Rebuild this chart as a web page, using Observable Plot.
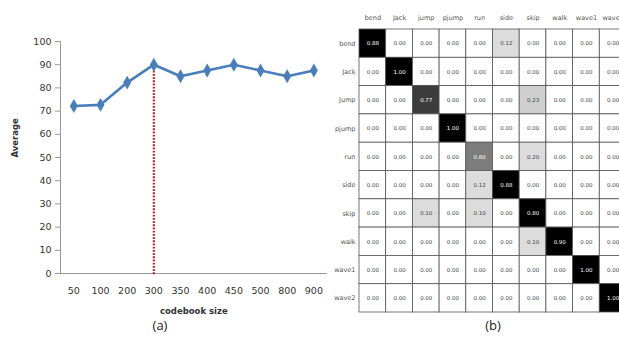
<!DOCTYPE html>
<html>
<head>
<meta charset="utf-8">
<script src="https://cdn.jsdelivr.net/npm/d3@7"></script>
<script src="https://cdn.jsdelivr.net/npm/@observablehq/plot@0.6"></script>
<style>
  html, body { margin: 0; padding: 0; background: #fff; overflow: hidden; }
  #wrap { position: relative; width: 619px; height: 354px; overflow: hidden; font-family: "DejaVu Sans", sans-serif; }
  .panel { position: absolute; top: 0; }
  .panel svg { max-width: none !important; }
  .cap { position: absolute; top: 316px; width: 40px; text-align: center; font-size: 13px; color: #222; font-family: "Open Sans", sans-serif; }
</style>
</head>
<body>
<div id="wrap">
  <div id="left" class="panel" style="left:0px; width:330px"></div>
  <div id="right" class="panel" style="left:320px; width:310px"></div>
  <div class="cap" style="left:140px">(a)</div>
  <div class="cap" style="left:473px">(b)</div>
</div>
<script>
// ---- Panel (a): average vs codebook size ----
const codebook = ["50","100","200","300","350","400","450","500","800","900"];
const average = [72.2, 72.7, 82.3, 90, 85, 87.5, 90, 87.5, 85, 87.5];
const yTicks = [0,10,20,30,40,50,60,70,80,90,100];
const bestSize = "300";
const bestAverage = 90;

// ---- Panel (b): confusion matrix ----
const rowLabels = ["bend","Jack","Jump","pjump","run","side","skip","walk","wave1","wave2"];
const colLabels = ["bend","Jack","jump","pjump","run","side","skip","walk","wave1","wave2"];
const confusion = [
  [0.88,0,0,0,0,0.12,0,0,0,0],
  [0,1.00,0,0,0,0,0,0,0,0],
  [0,0,0.77,0,0,0,0.23,0,0,0],
  [0,0,0,1.00,0,0,0,0,0,0],
  [0,0,0,0,0.80,0,0.20,0,0,0],
  [0,0,0,0,0.12,0.88,0,0,0,0],
  [0,0,0.10,0,0.10,0,0.80,0,0,0],
  [0,0,0,0,0,0,0.10,0.90,0,0],
  [0,0,0,0,0,0,0,0,1.00,0],
  [0,0,0,0,0,0,0,0,0,1.00]
];

const lineData = codebook.map((c, i) => ({size: c, avg: average[i]}));
const blue = "#4a7ebb";

const left = Plot.plot({
  width: 330, height: 330,
  marginLeft: 60, marginRight: 3.3, marginTop: 41, marginBottom: 57,
  style: {fontSize: "9.5px", fontFamily: "DejaVu Sans, sans-serif", color: "#333", background: "transparent", overflow: "visible", maxWidth: "none"},
  x: {type: "point", domain: codebook, padding: 0.5, round: false},
  y: {domain: [0, 100]},
  marks: [
    Plot.frame({anchor: "left", stroke: "#999"}),
    Plot.ruleY([0], {stroke: "#999"}),
    Plot.axisY({ticks: yTicks, tickSize: 5, tickPadding: 4, label: null, stroke: "#999"}),
    Plot.axisX({tickSize: 0, tickPadding: 14, label: null}),
    Plot.ruleX([bestSize], {x: d => d, y1: -0.5, y2: bestAverage, stroke: "#b8232b", strokeWidth: 2.2, strokeDasharray: "1.8,1.4"}),
    Plot.line(lineData, {x: "size", y: "avg", stroke: blue, strokeWidth: 2.6}),
    Plot.dot(lineData, {x: "size", y: "avg", symbol: "diamond", fill: blue, r: 4.2}),
    Plot.text(["codebook size"], {text: d => d, frameAnchor: "bottom", dy: 40, fontWeight: "bold", fontSize: 8.5, fill: "#333"}),
    Plot.text(["Average"], {text: d => d, frameAnchor: "left", dx: -45, rotate: -90, fontWeight: "bold", fontSize: 8.5, fill: "#333"})
  ]
});
document.getElementById("left").appendChild(left);

const cells = [];
rowLabels.forEach((r, i) => colLabels.forEach((c, j) => cells.push({row: r, col: c, i, j, v: confusion[i][j]})));
function shade(d) {
  if (d.v === 0) return "#ffffff";
  if (d.v < 0.3) return d.v > 0.21 ? "#cfcfcf" : "#dcdcdc";
  if (rowLabels[d.i] === "run" && colLabels[d.j] === "run") return "#7c7c7c";
  if (d.v < 0.78) return "#3c3c3c";
  return "#000000";
}
function ink(d) { return d.v >= 0.5 ? "#ffffff" : "#444"; }

const right = Plot.plot({
  width: 310, height: 354,
  marginLeft: 39, marginRight: 4, marginTop: 29, marginBottom: 42,
  style: {fontSize: "6.5px", fontFamily: "DejaVu Sans, sans-serif", color: "#555", background: "transparent", overflow: "visible", maxWidth: "none"},
  color: {type: "identity"},
  x: {domain: colLabels, padding: 0, round: false, axis: "top", tickSize: 0, tickPadding: 10, label: null},
  y: {domain: rowLabels, padding: 0, round: false, tickSize: 0, tickPadding: 4, label: null},
  marks: [
    Plot.cell(cells, {x: "col", y: "row", fill: shade, stroke: "#555", strokeWidth: 0.8}),
    Plot.text(cells, {x: "col", y: "row", text: d => d.v.toFixed(2), fill: ink, fontSize: 5.5})
  ]
});
document.getElementById("right").appendChild(right);
</script>
</body>
</html>
